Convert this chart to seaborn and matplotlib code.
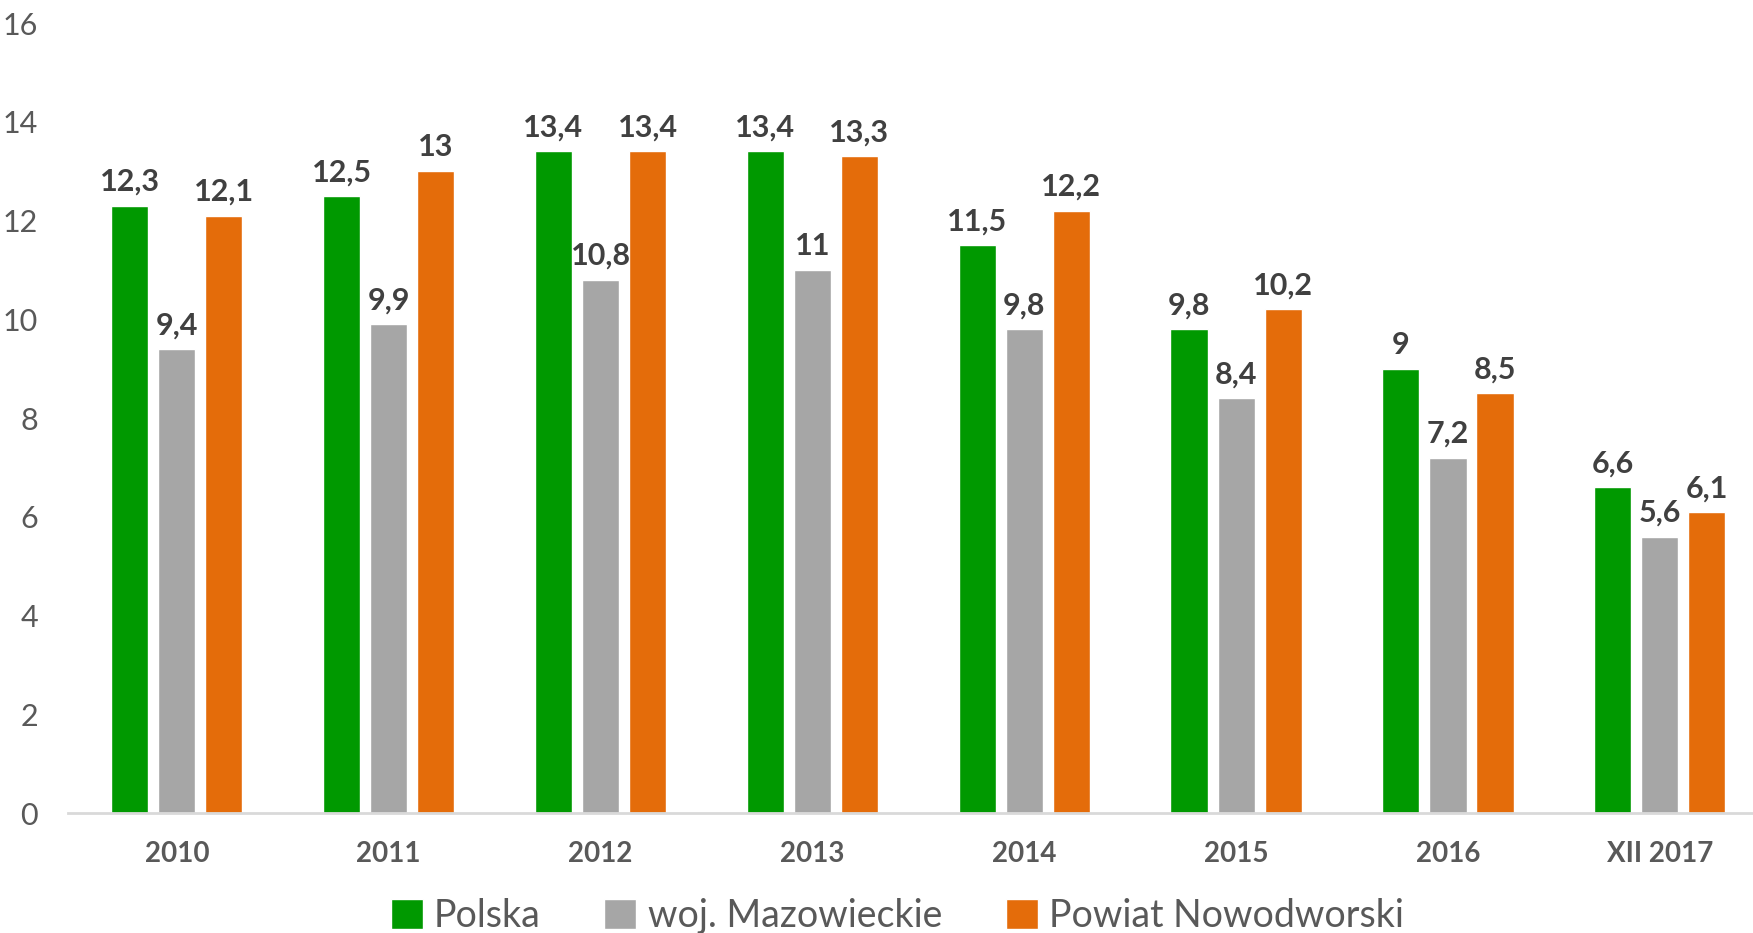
import numpy as np
import pandas as pd
import seaborn as sns
import matplotlib.pyplot as plt

# dane z wykresu
lata = ["2010", "2011", "2012", "2013", "2014", "2015", "2016", "XII 2017"]
polska = [12.3, 12.5, 13.4, 13.4, 11.5, 9.8, 9.0, 6.6]
mazowieckie = [9.4, 9.9, 10.8, 11.0, 9.8, 8.4, 7.2, 5.6]
nowodworski = [12.1, 13.0, 13.4, 13.3, 12.2, 10.2, 8.5, 6.1]
serie = ["Polska", "woj. Mazowieckie", "Powiat Nowodworski"]
kolory = ["#009900", "#A6A6A6", "#E46C0A"]

df = pd.DataFrame({
    "rok": lata * 3,
    "wartosc": polska + mazowieckie + nowodworski,
    "seria": [serie[0]] * len(lata) + [serie[1]] * len(lata) + [serie[2]] * len(lata),
})

sns.set_style("white")
plt.rcParams['font.family'] = ['Lato', 'DejaVu Sans']

fig = plt.figure(figsize=(17.53, 9.33), dpi=100)
ax = fig.add_axes([0.039, 0.1286, 0.961, 0.8467])

sns.barplot(data=df, x="rok", y="wartosc", hue="seria", palette=kolory,
            width=0.666, gap=0.21, saturation=1, ax=ax, errorbar=None)

for cont in ax.containers:
    etyk = [f"{v:g}".replace(".", ",") for v in cont.datavalues]
    ax.bar_label(cont, labels=etyk, padding=7, fontsize=22, fontweight="bold",
                 color="#404040")

ax.set_ylim(0, 16)
ax.set_yticks(np.arange(0, 17, 2))
ax.set_xlim(-0.512, 7.44)
ax.set_xlabel("")
ax.set_ylabel("")

for s in ["top", "right", "left"]:
    ax.spines[s].set_visible(False)
ax.spines["bottom"].set_color("#D9D9D9")
ax.spines["bottom"].set_linewidth(2)

ax.tick_params(axis="y", length=0, labelsize=22, labelcolor="#595959", pad=22)
ax.tick_params(axis="x", length=0, labelsize=20, labelcolor="#595959", pad=20)
for t in ax.get_xticklabels():
    t.set_fontweight("bold")

ax.legend(loc="lower center", bbox_to_anchor=(0.492, -0.172), ncol=3, frameon=False,
          fontsize=27, labelcolor="#595959", handlelength=0.85, handleheight=0.85,
          handletextpad=0.3, columnspacing=1.7, borderaxespad=0)

plt.savefig("out.png", dpi=100)
